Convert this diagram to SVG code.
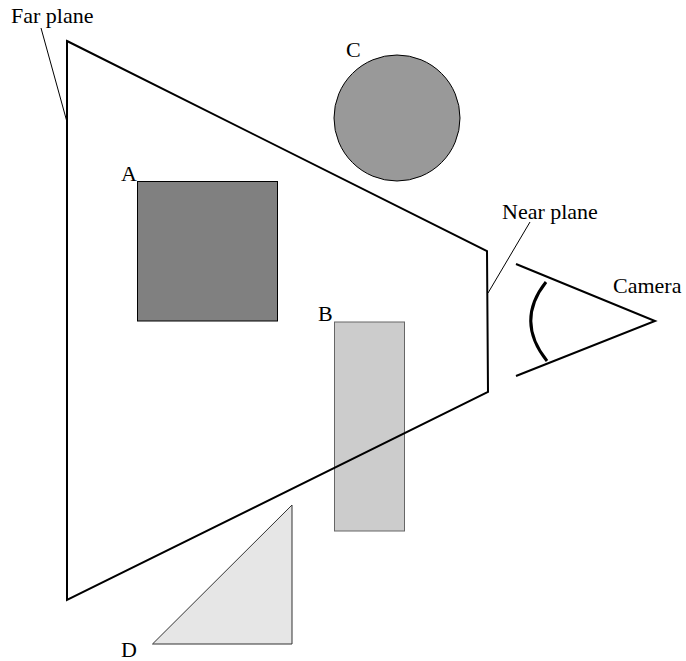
<svg xmlns="http://www.w3.org/2000/svg" width="686" height="661" viewBox="0 0 686 661">
<style>
text{font-family:"Liberation Serif","Times New Roman",serif;font-size:22px;fill:#000}
.thin{stroke:#000;stroke-width:1;fill:none}
.frus{stroke:#000;stroke-width:2;fill:none;stroke-linejoin:miter}
</style>
<rect width="686" height="661" fill="#fff"/>
<g id="shapeA"><rect x="137.5" y="181.5" width="140" height="139.5" fill="#808080" stroke="#000" stroke-width="1"/><text x="121" y="181">A</text></g>
<g id="shapeB"><rect x="334.5" y="322" width="70" height="209" fill="#cccccc" stroke="#666" stroke-width="1"/><text x="318" y="321">B</text></g>
<g id="shapeC"><circle cx="397" cy="118" r="63" fill="#999999" stroke="#000" stroke-width="1"/><text x="346" y="57">C</text></g>
<g id="shapeD"><polygon points="292,505 292,644 152.5,644" fill="#e6e6e6" stroke="#333" stroke-width="1"/><text x="121" y="657">D</text></g>
<g id="frustum"><polygon class="frus" points="67,41 487,251 488,392 67,600"/></g>
<g id="camera">
<path class="frus" d="M516,264 L655,321 L516,376"/>
<path d="M546,282 Q515,321 547,361" stroke="#000" stroke-width="3" fill="none"/>
<text x="613" y="293">Camera</text>
</g>
<g id="labels">
<text x="11" y="23">Far plane</text>
<line class="thin" x1="41" y1="28" x2="67" y2="122"/>
<text x="502" y="219">Near plane</text>
<line class="thin" x1="530" y1="222" x2="488" y2="293"/>
</g>
</svg>
